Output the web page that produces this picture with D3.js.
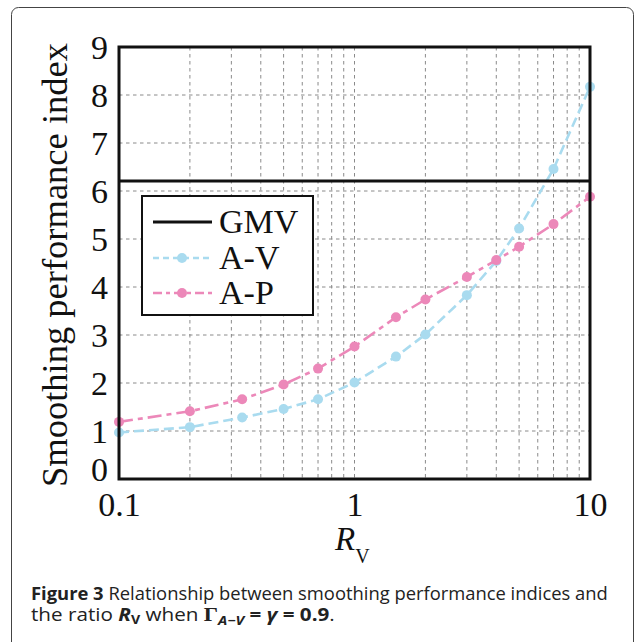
<!DOCTYPE html>
<html>
<head>
<meta charset="UTF-8">
<script src="https://cdn.jsdelivr.net/npm/d3@7"></script>
<style>
  body { margin: 0; background: #fff; }
  svg { display: block; }
</style>
</head>
<body>
<div id="chart"></div>
<script>
// ratio R_V values on the x axis
var ratios = [0.1, 0.2, 1 / 3, 0.5, 0.7, 1, 1.5, 2, 3, 4, 5, 7, 10];
// smoothing performance index per series
var avValues = [0.97, 1.08, 1.28, 1.46, 1.66, 2.01, 2.55, 3.01, 3.83, 4.54, 5.22, 6.46, 8.17];
var apValues = [1.19, 1.41, 1.66, 1.97, 2.30, 2.76, 3.37, 3.74, 4.21, 4.56, 4.84, 5.31, 5.88];
var gmvValue = 6.21;
var yTicks = [0, 1, 2, 3, 4, 5, 6, 7, 8, 9];
var xTicks = [0.1, 1, 10];

var W = 637, H = 642;
var margin = {top: 47, right: 47, bottom: 163, left: 119};
var width = W - margin.left - margin.right;
var height = H - margin.top - margin.bottom;

var blue = "#a9dbef";
var pink = "#ec88b9";
var serif = "'Liberation Serif', 'Times New Roman', serif";
var sans = "'Open Sans', 'Noto Sans', sans-serif";

var svg = d3.select("#chart").append("svg")
  .attr("width", W)
  .attr("height", H);

svg.append("rect").attr("width", W).attr("height", H).attr("fill", "#fff");

// outer figure box
svg.append("rect")
  .attr("x", 11.5).attr("y", 7.5)
  .attr("width", 622).attr("height", 650)
  .attr("rx", 7)
  .attr("fill", "none")
  .attr("stroke", "#444")
  .attr("stroke-width", 1);

var g = svg.append("g")
  .attr("transform", "translate(" + margin.left + "," + margin.top + ")");

var x = d3.scaleLog().domain([0.1, 10]).range([0, width]);
var y = d3.scaleLinear().domain([0, 9]).range([height, 0]);

// grid
var minor = [];
[0.1, 1].forEach(function(base) {
  for (var k = 2; k <= 9; k++) minor.push(base * k);
});
minor.push(1);

g.append("g").selectAll("line")
  .data(minor)
  .enter().append("line")
  .attr("x1", function(d) { return x(d); })
  .attr("x2", function(d) { return x(d); })
  .attr("y1", 0).attr("y2", height)
  .attr("stroke", "#8a8a8a")
  .attr("stroke-width", 1)
  .attr("stroke-dasharray", "3.5,3.5");

g.append("g").selectAll("line")
  .data(yTicks.filter(function(d) { return d > 0 && d < 9; }))
  .enter().append("line")
  .attr("x1", 0).attr("x2", width)
  .attr("y1", function(d) { return y(d); })
  .attr("y2", function(d) { return y(d); })
  .attr("stroke", "#8a8a8a")
  .attr("stroke-width", 1)
  .attr("stroke-dasharray", "3.5,3.5");

// axes (labels only, frame drawn below)
var yAxis = g.append("g")
  .call(d3.axisLeft(y).tickValues(yTicks).tickSize(0).tickPadding(11).tickFormat(d3.format("d")));
yAxis.select(".domain").remove();
yAxis.selectAll("text")
  .attr("font-family", serif)
  .attr("font-size", 34)
  .attr("fill", "#111")
  .attr("dy", function(d) { return d === 0 ? "0.03em" : "0.33em"; });

var xAxis = g.append("g")
  .attr("transform", "translate(0," + height + ")")
  .call(d3.axisBottom(x).tickValues(xTicks).tickSize(0).tickPadding(13)
    .tickFormat(function(d) { return d < 1 ? "0.1" : String(d); }));
xAxis.select(".domain").remove();
xAxis.selectAll("text")
  .attr("font-family", serif)
  .attr("font-size", 34)
  .attr("fill", "#111")
  .attr("dy", "0.71em");

// series
function series(values, color, dash) {
  var pts = ratios.map(function(r, i) { return [r, values[i]]; });
  var line = d3.line()
    .x(function(d) { return x(d[0]); })
    .y(function(d) { return y(d[1]); });
  g.append("path")
    .datum(pts)
    .attr("d", line)
    .attr("fill", "none")
    .attr("stroke", color)
    .attr("stroke-width", 2.6)
    .attr("stroke-dasharray", dash);
  g.append("g").selectAll("circle")
    .data(pts)
    .enter().append("circle")
    .attr("cx", function(d) { return x(d[0]); })
    .attr("cy", function(d) { return y(d[1]); })
    .attr("r", 5)
    .attr("fill", color);
}
series(avValues, blue, "10,5");
series(apValues, pink, "14,5,5,5");

// GMV line
g.append("line")
  .attr("x1", 0).attr("x2", width)
  .attr("y1", y(gmvValue)).attr("y2", y(gmvValue))
  .attr("stroke", "#111")
  .attr("stroke-width", 3);

// frame
g.append("rect")
  .attr("width", width).attr("height", height)
  .attr("fill", "none")
  .attr("stroke", "#111")
  .attr("stroke-width", 3);

// legend
var lg = svg.append("g");
lg.append("rect")
  .attr("x", 142).attr("y", 196)
  .attr("width", 171).attr("height", 119)
  .attr("fill", "#fff")
  .attr("stroke", "#111")
  .attr("stroke-width", 2);

var legendItems = [
  {name: "GMV", color: "#111", dash: null, marker: false, yy: 222},
  {name: "A-V", color: blue, dash: "6,4", marker: true, yy: 258},
  {name: "A-P", color: pink, dash: "9,4,4,4", marker: true, yy: 293}
];
legendItems.forEach(function(it) {
  lg.append("line")
    .attr("x1", 153).attr("x2", 212)
    .attr("y1", it.yy).attr("y2", it.yy)
    .attr("stroke", it.color)
    .attr("stroke-width", it.marker ? 2.6 : 3)
    .attr("stroke-dasharray", it.dash);
  if (it.marker) {
    lg.append("circle").attr("cx", 182).attr("cy", it.yy).attr("r", 5).attr("fill", it.color);
  }
  lg.append("text")
    .attr("x", 219).attr("y", it.yy + 11)
    .attr("font-family", serif)
    .attr("font-size", 34)
    .attr("fill", "#111")
    .text(it.name);
});

// axis titles
svg.append("text")
  .attr("transform", "translate(67,265) rotate(-90)")
  .attr("text-anchor", "middle")
  .attr("font-family", serif)
  .attr("font-size", 35)
  .attr("fill", "#111")
  .attr("textLength", 444)
  .attr("lengthAdjust", "spacingAndGlyphs")
  .text("Smoothing performance index");

var xt = svg.append("text")
  .attr("x", 335).attr("y", 550)
  .attr("font-family", serif)
  .attr("fill", "#111");
xt.append("tspan").attr("font-size", 33).attr("font-style", "italic").text("R");
xt.append("tspan").attr("font-size", 20).attr("dy", 13).text("V");

// caption, each line fitted horizontally to the width of the original
var cap1 = svg.append("g");
var c1 = cap1.append("text")
  .attr("x", 0).attr("y", 600)
  .attr("font-family", sans)
  .attr("font-size", 17.5)
  .attr("fill", "#222");
c1.append("tspan").attr("font-weight", "bold").text("Figure 3");
c1.append("tspan").text(" Relationship between smoothing performance indices and");

var cap2 = svg.append("g");
var c2 = cap2.append("text")
  .attr("x", 0).attr("y", 621)
  .attr("font-family", sans)
  .attr("font-size", 17.5)
  .attr("fill", "#222");
c2.append("tspan").text("the ratio ");
c2.append("tspan").attr("font-weight", "bold").attr("font-style", "italic").text("R");
c2.append("tspan").attr("font-weight", "bold").attr("font-size", 12).attr("dy", 3).text("V");
c2.append("tspan").attr("dy", -3).text(" when ");
c2.append("tspan").attr("font-weight", "bold").attr("font-family", serif).attr("font-size", 19).text("Γ");
c2.append("tspan").attr("font-weight", "bold").attr("font-style", "italic").attr("font-size", 12.5).attr("dy", 4).text("A−V");
c2.append("tspan").attr("font-weight", "bold").attr("dy", -4).text(" = ");
c2.append("tspan").attr("font-weight", "bold").attr("font-style", "italic").text("γ");
c2.append("tspan").attr("font-weight", "bold").text(" = 0.9");
c2.append("tspan").text(".");

var sx1 = 577 / c1.node().getBBox().width;
var sx2 = 304 / c2.node().getBBox().width;
cap1.attr("transform", "translate(31,0) scale(" + sx1 + ",1)");
cap2.attr("transform", "translate(31,0) scale(" + sx2 + ",1)");
</script>
</body>
</html>
